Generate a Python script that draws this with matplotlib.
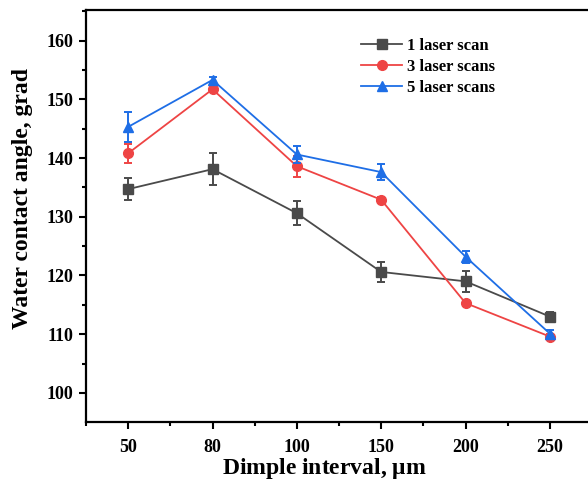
import numpy as np
import matplotlib.pyplot as plt

plt.rcParams['font.family'] = ['Liberation Serif', 'DejaVu Serif']
plt.rcParams['font.weight'] = 'bold'
plt.rcParams['mathtext.default'] = 'regular'

# Data
intervals = ['50', '80', '100', '150', '200', '250']
scan1 = [134.7, 138.1, 130.6, 120.6, 119.0, 113.0]
scan1_err = [1.85, 2.75, 2.05, 1.75, 1.8, 0.7]
scan3 = [140.8, 151.7, 138.6, 132.9, 115.3, 109.6]
scan3_err = [1.65, 0.5, 1.75, 0.5, 0.4, 0.5]
scan5 = [145.3, 153.3, 140.6, 137.6, 123.2, 110.1]
scan5_err = [2.5, 0.5, 1.5, 1.3, 1.0, 0.6]

fig = plt.figure(figsize=(5.88, 4.84), dpi=100)
ax = fig.add_axes([86 / 588, 61.7 / 484, 506 / 588, 412.3 / 484])

x = np.arange(len(intervals))
series = [
    (scan1, scan1_err, '#4a4a4a', 's', 6.5, '1 laser scan'),
    (scan3, scan3_err, '#ee4444', 'o', 7, '3 laser scans'),
    (scan5, scan5_err, '#1e6ee6', '^', 7, '5 laser scans'),
]
for vals, err, col, mk, ms, lab in series:
    ax.errorbar(x, vals, yerr=err, fmt='none', ecolor=col,
                elinewidth=1.4, capsize=3, capthick=1.4)
    ax.plot(x, vals, color=col, marker=mk, markersize=ms, linewidth=1.3,
            label=lab)

ax.set_xlim(-0.5, 5.5)
ax.set_ylim(95, 165.2)
ax.set_xticks(x)
ax.set_xticklabels(intervals)
ax.set_xticks(np.arange(-0.5, 5.6, 1), minor=True)
ax.set_yticks(np.arange(100, 161, 10))
ax.set_yticks(np.arange(100, 166, 5), minor=True)
ax.tick_params(axis='both', which='major', direction='out', length=5, width=1.5,
               labelsize=13)
ax.tick_params(axis='x', which='major', pad=7)
ax.tick_params(axis='y', which='major', pad=4)
ax.tick_params(axis='both', which='minor', direction='out', length=3, width=1.5)
for sp in ax.spines.values():
    sp.set_linewidth(1.6)

ax.set_xlabel('Dimple interval, $\\mu$m', fontsize=17, fontweight='bold')
ax.set_ylabel('Water contact angle, grad', fontsize=17, fontweight='bold')
ax.xaxis.set_label_coords((324 - 86) / 506, -0.082)
ax.yaxis.set_label_coords(-0.105, (422.3 - 199) / 412.3)

ax.legend(loc='upper left', bbox_to_anchor=(0.543, 0.933), frameon=False,
          fontsize=12, handlelength=2.5, borderaxespad=0, borderpad=0,
          labelspacing=0.32, handletextpad=0.25)

fig.savefig('out.png', dpi=100)
